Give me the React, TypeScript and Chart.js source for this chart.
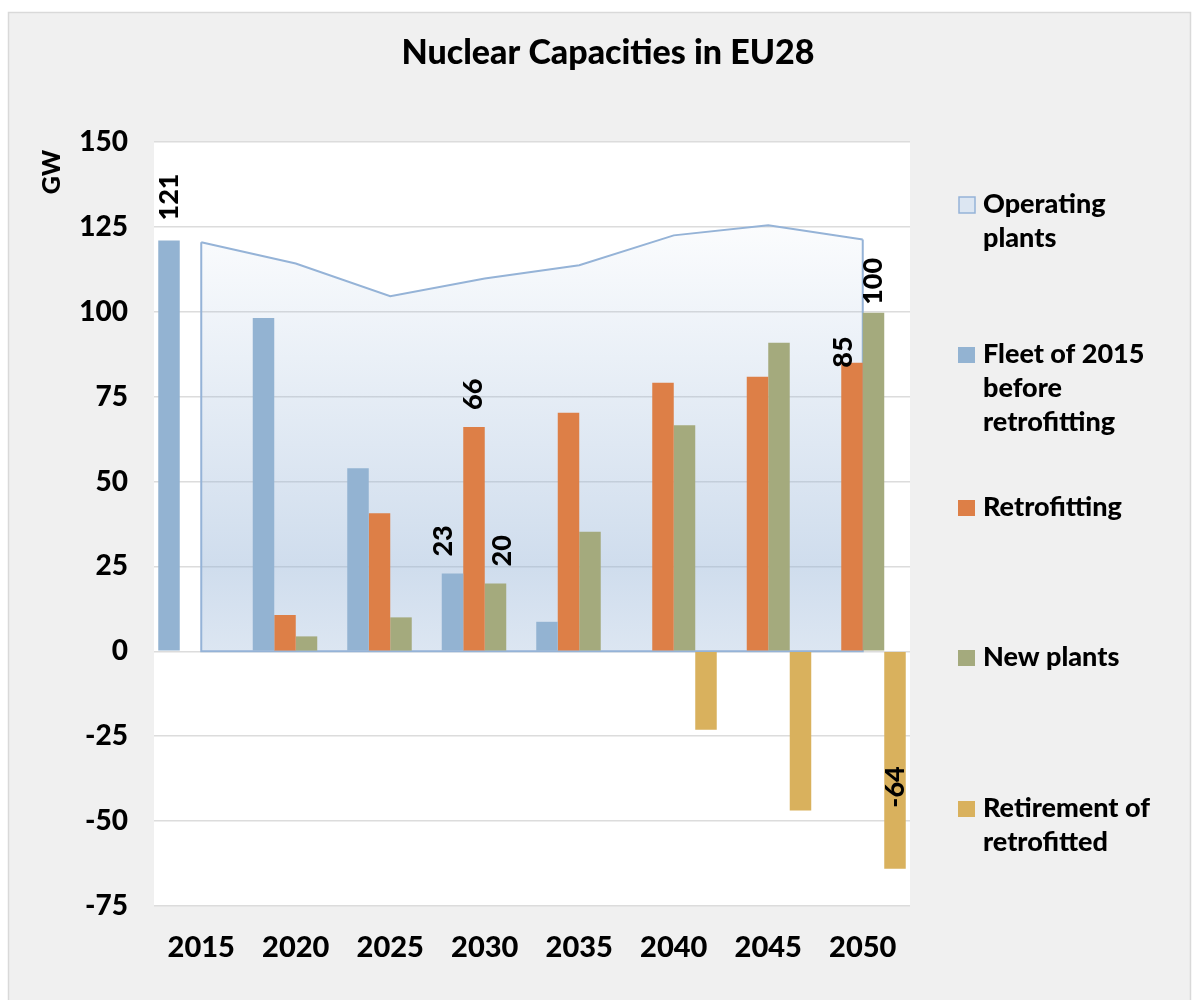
import React, { useEffect, useRef } from "react";
import { Chart, registerables } from "chart.js";

Chart.register(...registerables);

// ---------- data ----------
const YEARS = ["2015", "2020", "2025", "2030", "2035", "2040", "2045", "2050"];
const OPERATING = [120.5, 114.2, 104.6, 109.8, 113.7, 122.5, 125.5, 121.3];
const FLEET_2015 = [121, 98.2, 53.9, 22.9, 8.7, 0, 0, 0];
const RETROFITTING = [0, 10.7, 40.7, 66.1, 70.3, 79.1, 80.9, 85];
const NEW_PLANTS = [0, 4.4, 10, 20, 35.2, 66.6, 90.9, 99.7];
const RETIREMENT = [0, 0, 0, 0, 0, -23.1, -46.9, -64];

const SERIES_NAMES = [
  "Operating plants",
  "Fleet of 2015 before retrofitting",
  "Retrofitting",
  "New plants",
  "Retirement of retrofitted",
];
const LEGEND_LINES = [
  ["Operating", "plants"],
  ["Fleet of 2015", "before", "retrofitting"],
  ["Retrofitting"],
  ["New plants"],
  ["Retirement of", "retrofitted"],
];

const Y_MIN = -75;
const Y_MAX = 150;
const Y_STEP = 25;
const TITLE = "Nuclear Capacities in EU28";
const Y_TITLE = "GW";

// which bars carry a value label: [dataset index, category index]
const LABELLED = [
  [1, 0],
  [1, 3],
  [2, 3],
  [3, 3],
  [2, 7],
  [3, 7],
  [4, 7],
];

// ---------- styling ----------
const FONT = "Lato, 'DejaVu Sans', sans-serif";
const W = 900;
const COLORS = ["#95b3d7", "#93b3d2", "#dd7f47", "#a4aa7d", "#d9b15d"];
// label placement tweaks (px): dx, gap from bar end
const LABEL_TWEAKS: Record<string, [number, number]> = {
  "1-0": [0, 20],
  "1-3": [-9, 17],
  "2-3": [-1, 17],
  "3-3": [7, 17],
  "2-7": [-9, -5],
  "3-7": [0, 8],
  "4-7": [0, 61],
};

const backgroundPlugin = {
  id: "bgFrame",
  beforeDraw(chart: any) {
    const { ctx, chartArea } = chart;
    ctx.save();
    ctx.fillStyle = "#ffffff";
    ctx.fillRect(0, 0, chart.width, chart.height);
    ctx.fillStyle = "#f0f0f0";
    ctx.fillRect(8.5, 12.5, 1182, 995);
    ctx.strokeStyle = "#d9d9d9";
    ctx.lineWidth = 1.5;
    ctx.strokeRect(8.5, 12.5, 1182, 995);
    ctx.fillStyle = "#ffffff";
    ctx.fillRect(
      chartArea.left,
      chartArea.top,
      chartArea.right - chartArea.left,
      chartArea.bottom - chartArea.top
    );
    ctx.restore();
  },
};

const areaOutlinePlugin = {
  id: "areaOutline",
  afterDatasetDraw(chart: any, args: any) {
    if (args.index !== 0) return;
    const pts = chart.getDatasetMeta(0).data;
    if (!pts.length) return;
    const y0 = chart.scales.y.getPixelForValue(0);
    const first = pts[0];
    const last = pts[pts.length - 1];
    const ctx = chart.ctx;
    ctx.save();
    ctx.strokeStyle = COLORS[0];
    ctx.lineWidth = 2;
    ctx.beginPath();
    ctx.moveTo(first.x, first.y);
    ctx.lineTo(first.x, y0);
    ctx.lineTo(last.x, y0);
    ctx.lineTo(last.x, last.y);
    ctx.stroke();
    ctx.restore();
  },
};

const valueLabelPlugin = {
  id: "valueLabels",
  afterDatasetsDraw(chart: any) {
    const ctx = chart.ctx;
    ctx.save();
    ctx.font = `${W} 27px ${FONT}`;
    ctx.fillStyle = "#000";
    ctx.textAlign = "left";
    ctx.textBaseline = "middle";
    LABELLED.forEach(([ds, i]) => {
      const el = chart.getDatasetMeta(ds).data[i];
      const v = chart.data.datasets[ds].data[i] as number;
      const [dx, gap] = LABEL_TWEAKS[`${ds}-${i}`] || [0, 17];
      ctx.save();
      ctx.translate(el.x + dx, el.y - gap);
      ctx.rotate(-Math.PI / 2);
      ctx.fillText(String(Math.round(v)), 0, 0);
      ctx.restore();
    });
    ctx.restore();
  },
};

const textPlugin = {
  id: "texts",
  afterDraw(chart: any) {
    const ctx = chart.ctx;
    ctx.save();
    ctx.fillStyle = "#000";
    // title
    ctx.font = `${W} 34px ${FONT}`;
    ctx.textAlign = "center";
    ctx.textBaseline = "alphabetic";
    ctx.fillText(TITLE, 608, 64);
    // y title
    ctx.save();
    ctx.font = `${W} 25px ${FONT}`;
    ctx.translate(52, 172);
    ctx.rotate(-Math.PI / 2);
    ctx.textAlign = "center";
    ctx.textBaseline = "middle";
    ctx.fillText(Y_TITLE, 0, 0);
    ctx.restore();
    // legend
    const baselines = [213, 363, 516, 666, 817];
    ctx.font = `${W} 27px ${FONT}`;
    ctx.textAlign = "left";
    LEGEND_LINES.forEach((lines, k) => {
      const b = baselines[k];
      if (k === 0) {
        ctx.fillStyle = "#dce6f2";
        ctx.fillRect(959, b - 16, 16, 16);
        ctx.strokeStyle = COLORS[0];
        ctx.lineWidth = 1.5;
        ctx.strokeRect(959, b - 16, 16, 16);
      } else {
        ctx.fillStyle = COLORS[k];
        ctx.fillRect(958, b - 16, 17, 16);
      }
      ctx.fillStyle = "#000";
      lines.forEach((t, j) => ctx.fillText(t, 983, b + j * 34));
    });
    ctx.restore();
  },
};

export default function App() {
  const ref = useRef<HTMLCanvasElement | null>(null);

  useEffect(() => {
    if (!ref.current) return;
    const areaFill = (c: any) => {
      const { chart } = c;
      const area = chart.chartArea;
      if (!area) return "rgba(149,179,215,0.3)";
      const y = chart.scales.y;
      const g = chart.ctx.createLinearGradient(0, y.getPixelForValue(125), 0, y.getPixelForValue(0));
      g.addColorStop(0, "rgba(149,179,215,0.04)");
      g.addColorStop(0.8, "rgba(149,179,215,0.45)");
      g.addColorStop(1, "rgba(149,179,215,0.33)");
      return g;
    };
    const chart = new Chart(ref.current, {
      type: "bar",
      data: {
        labels: YEARS,
        datasets: [
          {
            type: "line",
            label: SERIES_NAMES[0],
            data: OPERATING,
            borderColor: COLORS[0],
            borderWidth: 2,
            backgroundColor: areaFill,
            fill: "origin",
            pointRadius: 0,
            tension: 0,
            order: 10,
          } as any,
          { label: SERIES_NAMES[1], data: FLEET_2015, backgroundColor: COLORS[1], order: 1 },
          { label: SERIES_NAMES[2], data: RETROFITTING, backgroundColor: COLORS[2], order: 2 },
          { label: SERIES_NAMES[3], data: NEW_PLANTS, backgroundColor: COLORS[3], order: 3 },
          { label: SERIES_NAMES[4], data: RETIREMENT, backgroundColor: COLORS[4], order: 4 },
        ],
      },
      options: {
        responsive: false,
        animation: false,
        devicePixelRatio: 1,
        layout: { padding: { left: 0, right: 285, top: 142, bottom: 34 } },
        datasets: { bar: { categoryPercentage: 0.91, barPercentage: 1.0, borderWidth: 0 } },
        plugins: { legend: { display: false }, tooltip: { enabled: false }, title: { display: false } },
        scales: {
          x: {
            grid: { display: false },
            border: { display: false },
            ticks: { color: "#000", font: { family: FONT, size: 29, weight: W as any }, padding: 16 },
            afterFit: (s: any) => {
              s.height = 60;
            },
          },
          y: {
            min: Y_MIN,
            max: Y_MAX,
            grid: { color: "#dcdcdc", lineWidth: 1.5, drawTicks: false },
            border: { display: false },
            ticks: {
              stepSize: Y_STEP,
              color: "#000",
              padding: 26,
              font: { family: FONT, size: 28, weight: W as any },
            },
            afterFit: (s: any) => {
              s.width = 154;
            },
          },
        },
      },
      plugins: [backgroundPlugin, areaOutlinePlugin, valueLabelPlugin, textPlugin],
    });
    return () => chart.destroy();
  }, []);

  return (
    <div style={{ position: "absolute", left: 0, top: 0, width: 1195, height: 1000 }}>
      <canvas ref={ref} width={1195} height={1000} style={{ width: 1195, height: 1000, display: "block" }} />
    </div>
  );
}
